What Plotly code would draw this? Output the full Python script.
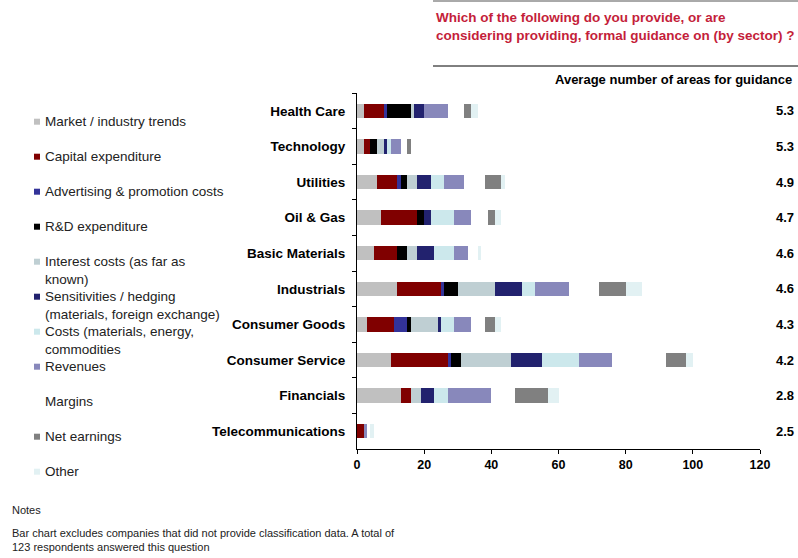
import plotly.graph_objects as go

# Sectors (top to bottom)
sectors = ["Health Care", "Technology", "Utilities", "Oil & Gas", "Basic Materials",
           "Industrials", "Consumer Goods", "Consumer Service", "Financials",
           "Telecommunications"]

# Average number of areas for guidance
avg_areas = ["5.3", "5.3", "4.9", "4.7", "4.6", "4.6", "4.3", "4.2", "2.8", "2.5"]

# Guidance areas (legend order) and colours
areas = ["Market / industry trends", "Capital expenditure", "Advertising & promotion costs",
         "R&D expenditure", "Interest costs (as far as<br>known)",
         "Sensitivities / hedging<br>(materials, foreign exchange)",
         "Costs (materials, energy,<br>commodities", "Revenues", "Margins",
         "Net earnings", "Other"]
colors = ["#C0C0C0", "#800000", "#333399", "#000000", "#BFCFD3", "#22226E",
          "#CCE8EC", "#8888BB", "#FFFFFF", "#808080", "#E2F1F3"]

# respondent counts per area, one value per sector (same order as sectors)
market = [2, 2, 6, 7, 5, 12, 3, 10, 13, 0]
capex = [6, 2, 6, 11, 7, 13, 8, 17, 3, 2]
advertising = [1, 0, 1, 0, 0, 1, 4, 1, 0, 0]
rnd = [7, 2, 2, 2, 3, 4, 1, 3, 0, 0]
interest = [1, 2, 3, 0, 3, 11, 8, 15, 3, 0]
sensitivities = [3, 1, 4, 2, 5, 8, 1, 9, 4, 0]
costs = [0, 1, 4, 7, 6, 4, 4, 11, 4, 0]
revenues = [7, 3, 6, 5, 4, 10, 5, 10, 13, 1]
margins = [5, 2, 6, 5, 3, 9, 4, 16, 7, 1]
net_earnings = [2, 1, 5, 2, 0, 8, 3, 6, 10, 0]
other = [2, 0, 1, 2, 1, 5, 2, 2, 3, 1]

series = [market, capex, advertising, rnd, interest, sensitivities, costs,
          revenues, margins, net_earnings, other]

FONT = "Arial, Liberation Sans, sans-serif"
W, H = 798, 558
L, R, T, B = 357, 38, 93, 109
PW, PH = W - L - R, H - T - B


def px_x(x):
    # pixel x -> paper x
    return (x - L) / PW


def px_y(y):
    # pixel y -> paper y
    return 1 - (y - T) / PH


fig = go.Figure()

for name, vals, col in zip(areas, series, colors):
    fig.add_trace(go.Bar(
        y=sectors, x=vals, name=name.replace("<br>", " "), orientation="h",
        marker=dict(color=col, line=dict(width=0)), showlegend=False,
    ))

fig.update_layout(
    barmode="stack", bargap=0.6,
    width=W, height=H,
    margin=dict(l=L, r=R, t=T, b=B),
    paper_bgcolor="white", plot_bgcolor="white",
    font=dict(family=FONT, color="#000000"),
)

fig.update_xaxes(
    range=[0, 120], tickvals=[0, 20, 40, 60, 80, 100, 120],
    showgrid=False, zeroline=False, showline=True, linecolor="black", linewidth=1,
    ticks="outside", ticklen=4, tickcolor="black",
    tickfont=dict(size=12.5, family=FONT, weight="bold"),
)
fig.update_yaxes(
    autorange="reversed", showgrid=False, showline=True, linecolor="black", linewidth=1,
    ticks="outside", ticklen=4, tickcolor="black", tickson="boundaries",
    tickfont=dict(size=13.5, family=FONT, weight="bold"), ticklabelstandoff=8,
)

annotations = []
shapes = []

# Title
annotations.append(dict(
    text="Which of the following do you provide, or are<br>considering providing, formal guidance on (by sector) ?",
    xref="paper", yref="paper", x=px_x(434), y=px_y(8), xanchor="left", yanchor="top",
    align="left", showarrow=False,
    font=dict(size=13.5, color="#C41E3A", family=FONT, weight="bold"),
))
shapes.append(dict(type="line", xref="paper", yref="paper", x0=px_x(433), x1=px_x(798),
                   y0=px_y(66), y1=px_y(66), line=dict(color="black", width=1)))
shapes.append(dict(type="line", xref="paper", yref="paper", x0=px_x(433), x1=px_x(798),
                   y0=px_y(1), y1=px_y(1), line=dict(color="#555555", width=1)))

# Column header + values
annotations.append(dict(
    text="Average number of areas for guidance", xref="paper", yref="paper",
    x=px_x(553), y=px_y(79), xanchor="left", yanchor="middle", showarrow=False,
    font=dict(size=13, family=FONT, weight="bold"),
))
for s, v in zip(sectors, avg_areas):
    annotations.append(dict(
        text=v, xref="paper", yref="y", x=px_x(796), y=s, xanchor="right",
        yanchor="middle", showarrow=False, font=dict(size=13, family=FONT, weight="bold"),
    ))

# Left legend
for i, (name, col) in enumerate(zip(areas, colors)):
    cy = 121.7 + 35 * i
    annotations.append(dict(
        text=name, xref="paper", yref="paper", x=px_x(43), y=px_y(cy - 10),
        xanchor="left", yanchor="top", align="left", showarrow=False,
        font=dict(size=13.5, color="#222222", family=FONT),
    ))
    if col != "#FFFFFF":
        shapes.append(dict(type="rect", xref="paper", yref="paper",
                           x0=px_x(34), x1=px_x(40), y0=px_y(cy - 3), y1=px_y(cy + 3),
                           fillcolor=col, line=dict(width=0)))

# Notes
annotations.append(dict(
    text="Notes", xref="paper", yref="paper", x=px_x(10), y=px_y(510),
    xanchor="left", yanchor="middle", showarrow=False,
    font=dict(size=11, color="#222222", family=FONT),
))
annotations.append(dict(
    text="Bar chart excludes companies that did not provide classification data. A total of<br>123 respondents answered this question",
    xref="paper", yref="paper", x=px_x(10), y=px_y(525), xanchor="left", yanchor="top",
    align="left", showarrow=False, font=dict(size=11, color="#222222", family=FONT),
))

fig.update_layout(annotations=annotations, shapes=shapes)

# page body has a default 8px margin; drop it so the figure fills the window
fig.write_html("out.html", config={"displayModeBar": False},
               post_script="document.body.style.margin='0';")
